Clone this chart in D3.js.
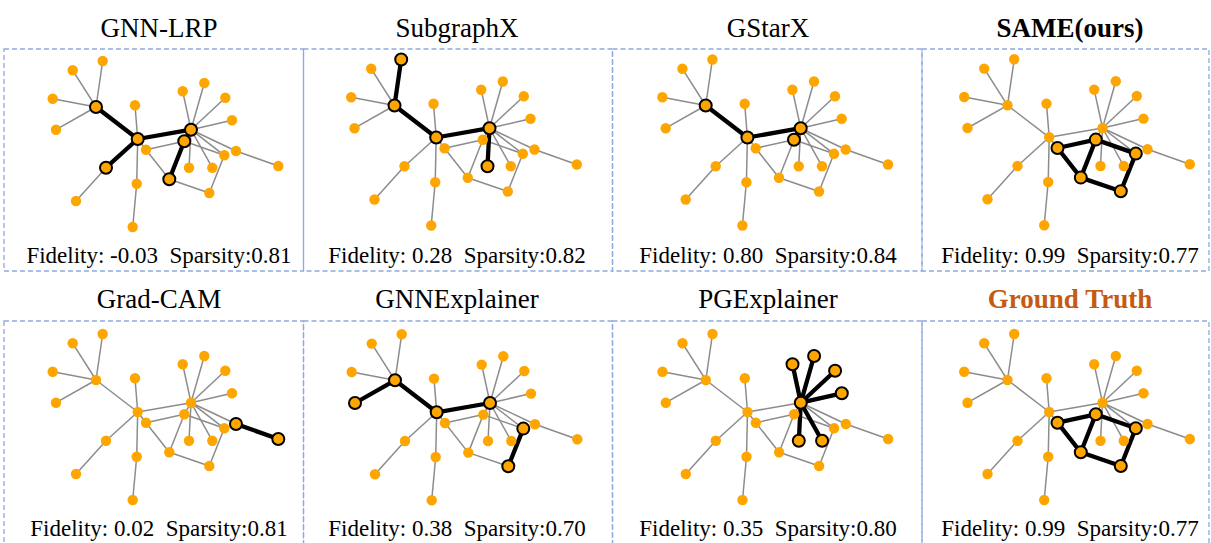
<!DOCTYPE html>
<html>
<head>
<meta charset="utf-8">
<script src="https://cdn.jsdelivr.net/npm/d3@7"></script>
<style>
  html, body { margin: 0; padding: 0; background: #fff; }
  svg text { font-family: "Liberation Serif", "Times New Roman", serif; white-space: pre; }
</style>
</head>
<body>
<svg id="chart" width="1211" height="543"></svg>
<script>
// graph layout (same graph in every panel)
const nodeIds = ["A", "a1", "a2", "a3", "a4", "B", "b1", "b2", "b3", "b4", "b5",
  "C", "c1", "c2", "c3", "c4", "c5", "c6", "c7", "c8", "D", "E", "F", "G", "H"];
const nodeX = [96.0, 102.7, 72.7, 52.7, 56.0, 137.7, 135.0, 106.0, 76.0, 136.7, 132.7,
  191.0, 182.7, 204.3, 225.3, 232.0, 236.0, 278.3, 189.0, 212.3, 146.0, 184.3, 169.3, 209.3, 224.3];
const nodeY = [60.0, 14.0, 23.3, 51.7, 82.7, 92.0, 58.3, 120.7, 154.0, 136.7, 180.0,
  82.7, 44.3, 36.0, 50.7, 73.3, 104.0, 119.0, 120.7, 120.7, 102.7, 94.3, 132.3, 146.0, 108.3];

const edges = [
  ["A", "a1"], ["A", "a2"], ["A", "a3"], ["A", "a4"], ["A", "B"],
  ["B", "b1"], ["B", "b2"], ["b2", "b3"], ["B", "b4"], ["b4", "b5"], ["B", "C"], ["B", "D"],
  ["C", "c1"], ["C", "c2"], ["C", "c3"], ["C", "c4"], ["C", "c5"], ["c5", "c6"],
  ["C", "c7"], ["C", "c8"], ["C", "E"], ["C", "H"],
  ["D", "E"], ["D", "F"], ["E", "F"], ["E", "H"], ["H", "G"], ["G", "F"]
];

const methods = ["GNN-LRP", "SubgraphX", "GStarX", "SAME(ours)",
  "Grad-CAM", "GNNExplainer", "PGExplainer", "Ground Truth"];
const fidelity = [-0.03, 0.28, 0.80, 0.99, 0.02, 0.38, 0.35, 0.99];
const sparsity = [0.81, 0.82, 0.84, 0.77, 0.81, 0.70, 0.80, 0.77];

// edges each method marks as its explanation
const explained = [
  [["A", "B"], ["B", "b2"], ["B", "C"], ["C", "E"], ["E", "F"]],
  [["A", "a1"], ["A", "B"], ["B", "C"], ["C", "c7"]],
  [["A", "B"], ["B", "C"], ["C", "E"]],
  [["D", "E"], ["D", "F"], ["E", "F"], ["E", "H"], ["H", "G"], ["G", "F"]],
  [["c5", "c6"]],
  [["A", "a4"], ["A", "B"], ["B", "C"], ["H", "G"]],
  [["C", "c1"], ["C", "c2"], ["C", "c3"], ["C", "c4"], ["C", "c7"], ["C", "c8"]],
  [["D", "E"], ["D", "F"], ["E", "F"], ["E", "H"], ["H", "G"], ["G", "F"]]
];

// panel frame
const colLeft = [4, 303.5, 612.5, 922];
const colRight = 1209;
const centers = [159, 457, 768, 1070];
const rows = [
  { top: 49, bottom: 271, titleY: 37, textY: 263 },
  { top: 321, bottom: 560, titleY: 308, textY: 536 }
];
const graphShift = [[0, 47], [298.5, 45.5], [609.7, 45.5], [911.5, 45.3],
  [0, 320], [299, 320.3], [609.8, 320], [911.5, 320]];

const svg = d3.select("#chart");
const nodes = nodeIds.map((id, i) => ({ id, x: nodeX[i], y: nodeY[i] }));
const byId = new Map(nodes.map((d) => [d.id, d]));
const fmt = d3.formatLocale({ decimal: ".", thousands: ",", grouping: [3], currency: ["", ""], minus: "-" }).format(".2f");
const key = (a, b) => [a, b].sort().join("|");

// dashed boxes
rows.forEach((r) => {
  colLeft.forEach((x0, c) => {
    const x1 = c < 3 ? colLeft[c + 1] : colRight;
    svg.append("rect")
      .attr("x", x0).attr("y", r.top)
      .attr("width", x1 - x0).attr("height", r.bottom - r.top)
      .attr("fill", "none")
      .attr("stroke", "#8faadc")
      .attr("stroke-width", 1.3)
      .attr("stroke-dasharray", "5,3");
  });
});

methods.forEach((name, p) => {
  const row = rows[Math.floor(p / 4)];
  const col = p % 4;
  const [dx, dy] = graphShift[p];
  const x = d3.scaleLinear().domain([0, 300]).range([dx, dx + 300]);
  const y = d3.scaleLinear().domain([0, 200]).range([dy, dy + 200]);

  const hiKeys = new Set(explained[p].map(([a, b]) => key(a, b)));
  const hiNodes = new Set(explained[p].flat());

  const g = svg.append("g");

  g.selectAll("line.base")
    .data(edges.filter(([a, b]) => !hiKeys.has(key(a, b))))
    .join("line")
    .attr("class", "base")
    .attr("x1", (d) => x(byId.get(d[0]).x))
    .attr("y1", (d) => y(byId.get(d[0]).y))
    .attr("x2", (d) => x(byId.get(d[1]).x))
    .attr("y2", (d) => y(byId.get(d[1]).y))
    .attr("stroke", "#8c8c8c")
    .attr("stroke-width", 1.5);

  g.selectAll("line.hi")
    .data(explained[p])
    .join("line")
    .attr("class", "hi")
    .attr("x1", (d) => x(byId.get(d[0]).x))
    .attr("y1", (d) => y(byId.get(d[0]).y))
    .attr("x2", (d) => x(byId.get(d[1]).x))
    .attr("y2", (d) => y(byId.get(d[1]).y))
    .attr("stroke", "#000")
    .attr("stroke-width", 4.3)
    .attr("stroke-linecap", "round");

  const ordered = [...nodes.filter((d) => !hiNodes.has(d.id)), ...nodes.filter((d) => hiNodes.has(d.id))];
  g.selectAll("circle")
    .data(ordered)
    .join("circle")
    .attr("cx", (d) => x(d.x))
    .attr("cy", (d) => y(d.y))
    .attr("r", (d) => (hiNodes.has(d.id) ? 6 : 5.2))
    .attr("fill", "#ffa500")
    .attr("stroke", (d) => (hiNodes.has(d.id) ? "#000" : "none"))
    .attr("stroke-width", 2);

  const bold = p === 3 || p === 7;
  svg.append("text")
    .attr("x", centers[col])
    .attr("y", row.titleY)
    .attr("text-anchor", "middle")
    .attr("font-size", 27)
    .attr("font-weight", bold ? "bold" : "normal")
    .attr("fill", p === 7 ? "#c55a11" : "#000")
    .text(name);

  svg.append("text")
    .attr("x", centers[col])
    .attr("y", row.textY)
    .attr("text-anchor", "middle")
    .attr("font-size", 23)
    .attr("fill", "#000")
    .text(`Fidelity: ${fmt(fidelity[p])}  Sparsity:${fmt(sparsity[p])}`);
});
</script>
</body>
</html>
